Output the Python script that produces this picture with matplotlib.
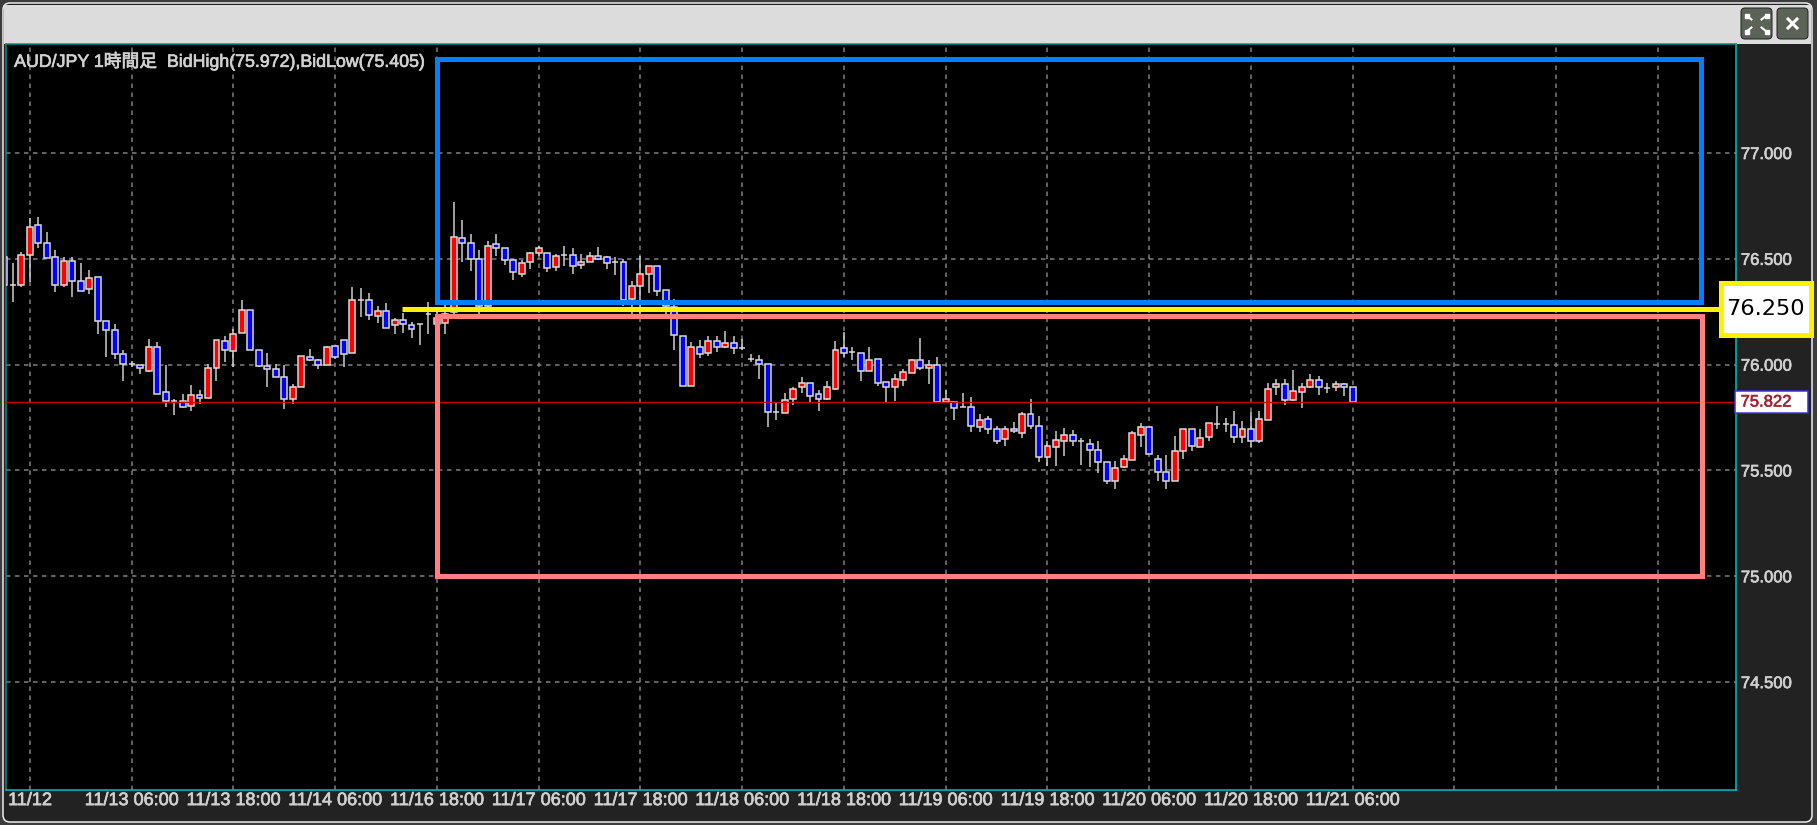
# AUD/JPY 1 hour candles, chart window with support / resistance boxes
import numpy as np
import matplotlib
matplotlib.use('Agg')
import matplotlib.pyplot as plt
import matplotlib.patheffects as pe
from matplotlib.patches import Rectangle, FancyBboxPatch

opens = [
 76.509,76.375,76.375,76.517,76.658,76.573,76.509,76.375,76.489,76.394,
 76.355,76.412,76.205,76.162,76.052,76.005,76.000,75.970,76.084,75.871,
 75.826,75.826,75.804,75.855,75.844,75.984,76.112,76.063,76.150,76.260,
 76.071,75.994,75.978,75.942,75.836,75.894,76.036,76.020,76.000,76.088,
 76.118,76.057,76.304,76.304,76.229,76.252,76.186,76.210,76.189,76.190,
 76.240,76.190,76.196,76.248,76.599,76.577,76.498,76.279,76.572,76.550,
 76.494,76.428,76.484,76.527,76.528,76.462,76.519,76.520,76.473,76.486,
 76.514,76.508,76.484,76.486,76.310,76.373,76.428,76.466,76.353,76.270,
 76.133,75.900,76.083,76.056,76.111,76.083,76.103,76.078,76.025,76.020,
 76.005,75.774,75.773,75.837,75.892,75.915,75.859,75.836,75.884,76.078,
 76.059,76.056,75.970,76.028,75.916,75.892,75.928,75.962,76.020,75.986,
 76.000,75.825,75.825,75.802,75.802,75.705,75.742,75.697,75.648,75.695,
 75.675,75.767,75.711,75.563,75.613,75.641,75.669,75.637,75.627,75.598,
 75.542,75.450,75.516,75.548,75.669,75.705,75.556,75.494,75.450,75.594,
 75.697,75.613,75.660,75.719,75.719,75.716,75.660,75.696,75.639,75.738,
 75.893,75.907,75.835,75.871,75.893,75.929,75.890,75.893,75.907,75.893]
highs = [
 76.509,76.478,76.533,76.691,76.699,76.625,76.541,76.509,76.509,76.478,
 76.446,76.412,76.205,76.194,76.068,76.016,76.000,76.123,76.107,75.997,
 75.839,75.863,75.902,75.879,76.005,76.115,76.134,76.170,76.304,76.260,
 76.071,76.055,76.005,76.000,75.910,76.041,76.076,76.028,76.088,76.088,
 76.118,76.367,76.360,76.339,76.276,76.289,76.218,76.244,76.202,76.193,
 76.297,76.250,76.287,76.768,76.682,76.616,76.541,76.585,76.619,76.550,
 76.494,76.494,76.530,76.561,76.528,76.522,76.561,76.550,76.522,76.530,
 76.556,76.514,76.509,76.498,76.397,76.514,76.466,76.466,76.353,76.310,
 76.133,76.107,76.114,76.133,76.135,76.157,76.135,76.119,76.052,76.044,
 76.005,75.824,75.867,75.895,75.942,75.915,75.880,75.923,76.111,76.156,
 76.083,76.056,76.083,76.028,75.916,75.958,75.977,76.028,76.125,76.020,
 76.036,75.880,75.825,75.867,75.845,75.767,75.755,75.708,75.708,75.731,
 75.778,75.836,75.758,75.638,75.684,75.700,75.689,75.653,75.648,75.638,
 75.542,75.544,75.575,75.684,75.723,75.705,75.575,75.572,75.664,75.697,
 75.697,75.694,75.724,75.804,75.746,75.782,75.734,75.774,75.782,75.915,
 75.931,75.931,75.973,75.915,75.958,75.945,75.915,75.923,75.915,75.893]
lows = [
 76.375,76.297,76.367,76.391,76.549,76.505,76.344,76.367,76.320,76.347,
 76.336,76.147,76.036,76.028,75.921,75.989,75.957,75.965,75.863,75.800,
 75.760,75.797,75.781,75.815,75.844,75.921,76.013,75.989,76.150,76.071,
 75.990,75.894,75.942,75.792,75.812,75.894,76.016,75.978,76.000,76.028,
 75.989,76.053,76.226,76.213,76.197,76.175,76.147,76.150,76.128,76.091,
 76.146,76.170,76.143,76.240,76.486,76.444,76.240,76.270,76.514,76.472,
 76.400,76.412,76.451,76.514,76.436,76.444,76.467,76.428,76.451,76.483,
 76.495,76.451,76.425,76.279,76.240,76.220,76.337,76.326,76.216,76.067,
 75.898,75.900,76.031,76.041,76.059,76.080,76.052,76.070,76.013,75.934,
 75.704,75.739,75.770,75.809,75.864,75.817,75.781,75.833,75.880,76.036,
 76.020,75.922,75.970,75.898,75.825,75.830,75.898,75.960,75.973,75.908,
 75.820,75.820,75.739,75.798,75.681,75.681,75.673,75.627,75.614,75.677,
 75.653,75.697,75.541,75.520,75.520,75.570,75.614,75.528,75.516,75.489,
 75.434,75.411,75.512,75.548,75.611,75.577,75.450,75.411,75.450,75.556,
 75.591,75.610,75.639,75.694,75.680,75.632,75.632,75.610,75.632,75.738,
 75.856,75.809,75.830,75.793,75.890,75.856,75.864,75.876,75.851,75.820]
closes = [
 76.375,76.375,76.517,76.651,76.573,76.505,76.375,76.489,76.394,76.347,
 76.410,76.205,76.162,76.052,76.005,76.003,75.986,76.084,75.863,75.826,
 75.826,75.800,75.855,75.842,75.984,76.115,76.071,76.147,76.260,76.071,
 75.994,75.978,75.942,75.836,75.894,76.041,76.020,76.000,76.084,76.036,
 76.052,76.304,76.304,76.233,76.252,76.175,76.210,76.194,76.170,76.190,
 76.240,76.220,76.240,76.605,76.577,76.498,76.279,76.561,76.550,76.494,
 76.436,76.480,76.528,76.550,76.455,76.514,76.519,76.464,76.486,76.514,
 76.500,76.480,76.484,76.307,76.370,76.428,76.466,76.350,76.279,76.141,
 75.898,76.083,76.049,76.111,76.083,76.103,76.078,76.078,76.025,76.005,
 75.774,75.774,75.835,75.887,75.915,75.851,75.836,75.892,76.070,76.056,
 76.059,75.970,76.020,75.914,75.894,75.930,75.966,76.020,75.984,76.000,
 75.825,75.839,75.795,75.802,75.711,75.739,75.695,75.639,75.697,75.684,
 75.767,75.711,75.563,75.614,75.642,75.669,75.641,75.637,75.598,75.542,
 75.450,75.512,75.556,75.677,75.705,75.577,75.494,75.450,75.591,75.697,
 75.614,75.654,75.724,75.719,75.719,75.660,75.696,75.639,75.745,75.887,
 75.907,75.835,75.875,75.893,75.929,75.893,75.890,75.907,75.893,75.823]

price_ticks = [74.5, 75.0, 75.5, 76.0, 76.5, 77.0]
time_labels = ['11/12', '11/13 06:00', '11/13 18:00', '11/14 06:00', '11/16 18:00',
               '11/17 06:00', '11/17 18:00', '11/18 06:00', '11/18 18:00', '11/19 06:00',
               '11/19 18:00', '11/20 06:00', '11/20 18:00', '11/21 06:00', '', '', '']
last_price = 75.822
level = 76.25
level_drawn = 76.265   # the yellow line sits a bit above its label value
title = 'AUD/JPY 1時間足  BidHigh(75.972),BidLow(75.405)'

W, H = 1817, 825
PX = 0.72   # one pixel in points at dpi 100
fonts = ['Liberation Sans', 'Noto Sans CJK JP']
text_col = '#d0d0d0'
# the original text is slightly smeared, thicken it a little
thick = [pe.withStroke(linewidth=0.5, foreground=text_col)]

fig = plt.figure(figsize=(W/100, H/100), dpi=100, facecolor='#3c3c3c')

# window frame, title bar and buttons, in pixels
bg = fig.add_axes([0, 0, 1, 1], zorder=0)
bg.set_xlim(0, W); bg.set_ylim(H, 0); bg.axis('off')
bg.add_patch(FancyBboxPatch((3, 3), 1809, 819, boxstyle='round,pad=0,rounding_size=7',
                            fc='#222222', ec='#f0f0f0', lw=1.5*PX))
bg.add_patch(Rectangle((4, 5), 1807, 39, fc='#dcdcdc', ec='none'))
for bx in [1741, 1777]:
    bg.add_patch(FancyBboxPatch((bx, 8), 31, 31, boxstyle='round,pad=0,rounding_size=4',
                                fc='#5b6359', ec='#222222', lw=1*PX))
# close cross
bg.plot([1788, 1797], [19, 28], color='white', lw=3*PX)
bg.plot([1788, 1797], [28, 19], color='white', lw=3*PX)
# expand arrows
for sx, sy in [(-1, -1), (1, -1), (-1, 1), (1, 1)]:
    cx, cy = 1756.5, 23.5
    bg.plot([cx+sx*5, cx+sx*10], [cy+sy*4, cy+sy*8], color='white', lw=2*PX)
    bg.plot([cx+sx*10], [cy+sy*8], marker='s', ms=3.2, color='white')

# chart area
x0, x1, y0, y1 = 6, 1736, 44, 790
ax = fig.add_axes([x0/W, 1-y1/H, (x1-x0)/W, (y1-y0)/H], zorder=1, facecolor='black')
ax.set_xlim(0.177, 204.2)
ax.set_ylim(73.99, 77.515)

xs = np.arange(len(opens))
o = np.array(opens); h = np.array(highs); l = np.array(lows); c = np.array(closes)
body_col = ['#ff0000' if cc > oo else '#0000ff' for oo, cc in zip(o, c)]

ax.set_axisbelow(True)
ax.grid(True, color='#808080', linestyle=(0, (3, 3)), linewidth=1.5*PX)
grid_x = np.arange(len(time_labels))*12 + 3
ax.set_xticks(grid_x)
ax.set_xticklabels(time_labels, fontsize=13, family=fonts, color=text_col, path_effects=thick)
ax.set_yticks(price_ticks)
ax.set_yticklabels(['%.3f' % p for p in price_ticks], fontsize=12, family=fonts,
                   color=text_col, path_effects=thick)
ax.yaxis.tick_right()
ax.tick_params(axis='x', length=0, pad=1.5)
ax.tick_params(axis='y', length=0, pad=3.5)
for name, s in ax.spines.items():
    s.set_color('#00c4c4' if name in ('right', 'bottom') else '#008f8f')
    s.set_linewidth(1.5*PX)

# candles
ax.vlines(xs, l, h, color='#d0d0d0', linewidth=1.5*PX, zorder=3)
ax.bar(xs, c-o, bottom=o, width=0.7, color=body_col, edgecolor='#dedede',
       linewidth=1.5*PX, zorder=4)

# current price line
ax.axhline(last_price, color='#cc0000', linewidth=1.3*PX, zorder=5)

# resistance / support boxes
ax.add_patch(Rectangle((51.0, 76.297), 149.1, 77.442-76.297, fill=False,
                       ec='#0080ff', lw=5*PX, zorder=6))
ax.add_patch(Rectangle((50.95, 75.0), 149.2, 76.23-75.0, fill=False,
                       ec='#ff8080', lw=5*PX, zorder=6))
ax.plot([46.9, 203.0], [level_drawn, level_drawn], color='#fff200', lw=5*PX,
        solid_capstyle='butt', zorder=7, clip_on=False)

ax.text(0.0047, 0.9895, title, transform=ax.transAxes, va='top', ha='left',
        fontsize=12.8, family=fonts, color=text_col, path_effects=thick, zorder=8)

# value boxes on top of the price axis
top = fig.add_axes([0, 0, 1, 1], zorder=2)
top.set_xlim(0, W); top.set_ylim(H, 0); top.axis('off')
top.patch.set_alpha(0)
top.add_patch(Rectangle((1721, 282.5), 90, 52, fc='white', ec='#fff200', lw=5*PX))
top.text(1765, 309, '%.3f' % level, ha='center', va='center', fontsize=16.2,
         family='DejaVu Sans', color='black')
top.add_patch(Rectangle((1735, 390.5), 73, 22, fc='white', ec='#3a30d0', lw=1.5*PX))
top.text(1766, 402, '%.3f' % last_price, ha='center', va='center', fontsize=12,
         family=fonts, color='#a82030', path_effects=[pe.withStroke(linewidth=0.4, foreground='#a82030')])

plt.savefig('out.png', dpi=100)
